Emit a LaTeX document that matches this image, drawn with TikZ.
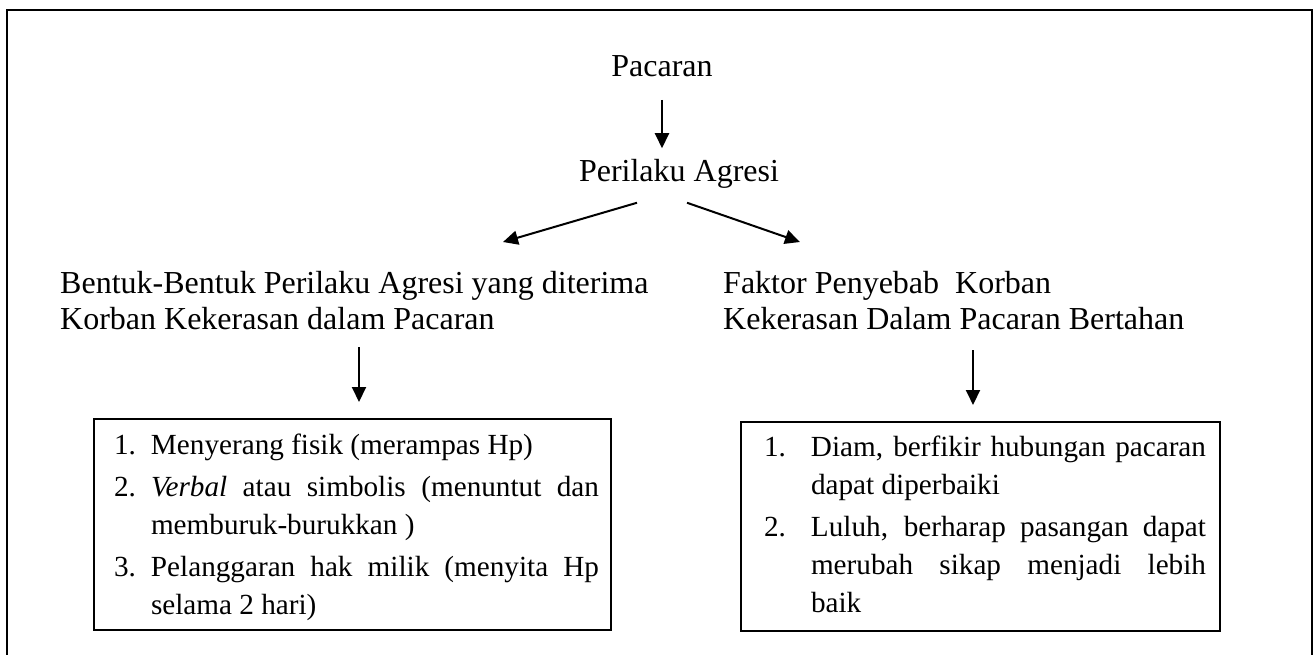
\documentclass[tikz,border=0pt]{standalone}
\usepackage{fontspec}
\setmainfont{Liberation Serif}
\usetikzlibrary{arrows.meta,calc}
\newcommand{\myitem}[3]{\noindent\hangindent=#1\hangafter=1\makebox[#1][l]{#2}#3\par}
\begin{document}
\begin{tikzpicture}[x=1pt,y=-1pt,
  hdr/.style={inner sep=0pt, font=\fontsize{32}{36}\selectfont},
  lbox/.style={draw, line width=2pt, inner xsep=0pt, inner ysep=10pt, anchor=north west, align=justify, font=\fontsize{29.2}{38}\selectfont},
  arr/.style={line width=2pt, -{Triangle[length=15pt,width=14pt]}},
  frame/.style={line width=2pt}]
\useasboundingbox (0,0) rectangle (1313,655);
\draw[frame] (7,700) -- (7,10) -- (1311.5,10) -- (1311.5,700);

\node[hdr] (pac) at (662,66) {Pacaran};
\node[hdr] (per) at (679,174) {Perilaku Agresi};
\node[hdr, align=left, anchor=north west] (ben) at (60,271) {Bentuk-Bentuk Perilaku Agresi yang diterima\\Korban Kekerasan dalam Pacaran};
\node[hdr, align=left, anchor=north west] (fak) at (723,271) {Faktor Penyebab\ \ Korban\\Kekerasan Dalam Pacaran Bertahan};

\node[lbox, text width=517pt] (box1) at (93,418) {\leftskip=20pt\rightskip=12pt\parskip=4pt%
\myitem{37pt}{1.}{\rule{0pt}{25pt}Menyerang fisik (merampas Hp)}%
\myitem{37pt}{2.}{\textit{Verbal} atau simbolis (menuntut dan\linebreak memburuk-burukkan )}%
\myitem{37pt}{3.}{Pelanggaran hak milik (menyita Hp\linebreak selama 2 hari)\rule[-6pt]{0pt}{1pt}}};

\node[lbox, text width=479pt] (box2) at (740,421) {\leftskip=23pt\rightskip=14pt\parskip=4pt%
\myitem{47pt}{1.}{\rule{0pt}{24pt}Diam, berfikir hubungan pacaran\linebreak dapat diperbaiki}%
\myitem{47pt}{2.}{Luluh, berharap pasangan dapat\linebreak merubah sikap menjadi lebih\linebreak baik\rule[-9pt]{0pt}{1pt}}};

\coordinate (a1) at ($(box1.north west)+(266,0)$);
\coordinate (a2) at ($(box2.north west)+(233,0)$);

\draw[arr] ($(pac.south)+(0,23)$) -- ($(pac.south |- per.north)+(0,-11)$);
\draw[arr] ($(per.south)+(-42,14)$) -- ($(ben.north west)+(443,-29)$);
\draw[arr] ($(per.south)+(8,14)$) -- ($(fak.north west)+(77,-29)$);
\draw[arr] ($(a1)+(0,-71)$) -- ($(a1)+(0,-16)$);
\draw[arr] ($(a2)+(0,-71)$) -- ($(a2)+(0,-16)$);
\end{tikzpicture}
\end{document}
